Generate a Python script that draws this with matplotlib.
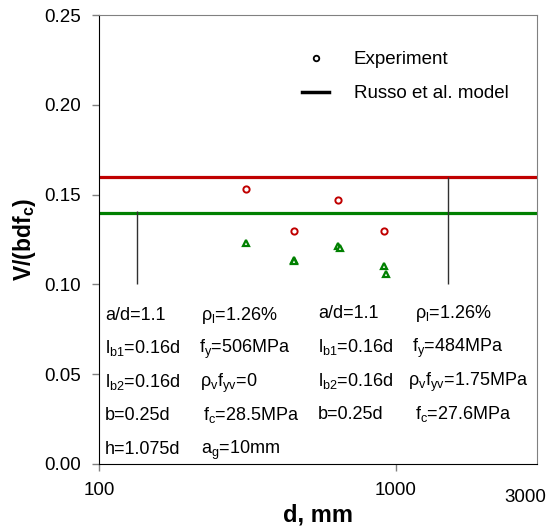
import matplotlib.pyplot as plt
from matplotlib.lines import Line2D

plt.rcParams['font.family'] = ['Liberation Sans', 'DejaVu Sans']
plt.rcParams['mathtext.fontset'] = 'custom'
plt.rcParams['mathtext.rm'] = 'Liberation Sans'
plt.rcParams['mathtext.it'] = 'Liberation Sans'
plt.rcParams['mathtext.bf'] = 'Liberation Sans:bold'

# Experiments (red circles: no stirrups, green triangles: with stirrups)
d_exp1 = [314, 456, 642, 911]
v_exp1 = [0.153, 0.130, 0.147, 0.1297]
d_exp2 = [314, 456, 456, 642, 652, 911, 932]
v_exp2 = [0.123, 0.1135, 0.113, 0.1215, 0.1200, 0.1100, 0.1060]

# Russo et al. model levels
model1 = 0.160
model2 = 0.140

# size range markers
d_range = [134, 1500]
v_range_lo = [0.10, 0.10]
v_range_hi = [0.141, 0.160]

RED = '#c00000'
GREEN = '#008000'

# parameter notes (left set, right set)
notes = [
    [r'a/d=1.1', r'$\mathregular{ρ_l}$=1.26%', r'a/d=1.1', r'$\mathregular{ρ_l}$=1.26%'],
    [r'$\mathregular{l_{b1}}$=0.16d', r'$\mathregular{f_y}$=506MPa', r'$\mathregular{l_{b1}}$=0.16d', r'$\mathregular{f_y}$=484MPa'],
    [r'$\mathregular{l_{b2}}$=0.16d', r'$\mathregular{ρ_vf_{yv}}$=0', r'$\mathregular{l_{b2}}$=0.16d', r'$\mathregular{ρ_vf_{yv}}$=1.75MPa'],
    [r'b=0.25d', r'$\mathregular{f_c}$=28.5MPa', r'b=0.25d', r'$\mathregular{f_c}$=27.6MPa'],
    [r'h=1.075d', r'$\mathregular{a_g}$=10mm', '', ''],
]

fig = plt.figure(figsize=(5.49, 5.28), dpi=100)
ax = fig.add_axes([99/549, 64/528, 438/549, 449/528])

ax.axhline(model1, color=RED, lw=2.3)
ax.axhline(model2, color=GREEN, lw=2.3)
ax.vlines(d_range, v_range_lo, v_range_hi, color='#303030', lw=1)

ax.plot(d_exp1, v_exp1, 'o', ms=4.5, mfc='white', mec=RED, mew=1.4, ls='none')
ax.plot(d_exp2, v_exp2, '^', ms=5, mfc='white', mec=GREEN, mew=1.6, ls='none')

ax.set_xscale('log')
ax.set_xlim(100, 3000)
ax.set_ylim(0, 0.25)
ax.set_xticks([100, 1000])
ax.set_xticklabels(['100', '1000'])
ax.minorticks_off()
ax.set_yticks([0, 0.05, 0.10, 0.15, 0.20, 0.25])
ax.set_yticklabels(['0.00', '0.05', '0.10', '0.15', '0.20', '0.25'])
ax.tick_params(axis='y', direction='out', length=5, width=1, color='#808080', pad=8, labelsize=13.5)
ax.tick_params(axis='x', direction='out', length=5, width=1, color='#808080', pad=8, labelsize=13.5)
ax.text(1.02, -0.074, '3000', transform=ax.transAxes, ha='right', va='center', fontsize=13.5)

for side in ['top', 'right']:
    ax.spines[side].set_color('#808080')
for side in ['left', 'bottom']:
    ax.spines[side].set_color('black')

ax.set_xlabel('d, mm', fontsize=17, fontweight='bold')
ax.xaxis.set_label_coords(0.5, -0.088)
ax.set_ylabel(r'V/(bdf$_\mathbf{c}$)', fontsize=16.5, fontweight='bold')
ax.yaxis.set_label_coords(-0.14, 0.5)

# note layout (pixels in reference, text baselines)
col_x = [[105, 201, 318, 415], [105, 199, 318, 412], [105, 200, 318, 408],
         [105, 203, 318, 415], [105, 201, 318, 415]]
row_y = [[320, 320, 318, 318], [353, 353, 352, 352], [387, 387, 386, 386],
         [420, 420, 419, 419], [454, 454, 454, 454]]
for r, row in enumerate(notes):
    for c, s in enumerate(row):
        if s:
            ax.text((col_x[r][c] - 99) / 438, (464 - row_y[r][c]) / 449, s,
                    transform=ax.transAxes, ha='left', va='baseline', fontsize=13)

handles = [Line2D([], [], marker='o', ms=4, mfc='white', mec='black', mew=1.3, ls='none'),
           Line2D([], [], color='black', lw=2.5)]
ax.legend(handles, ['Experiment', 'Russo et al. model'], loc='upper left',
          bbox_to_anchor=((302 - 99) / 438, (464 - 51) / 449), frameon=False,
          fontsize=13.5, handlelength=1.45, handletextpad=1.3, labelspacing=0.9,
          borderpad=0, borderaxespad=0)

fig.savefig('out.png', dpi=100)
